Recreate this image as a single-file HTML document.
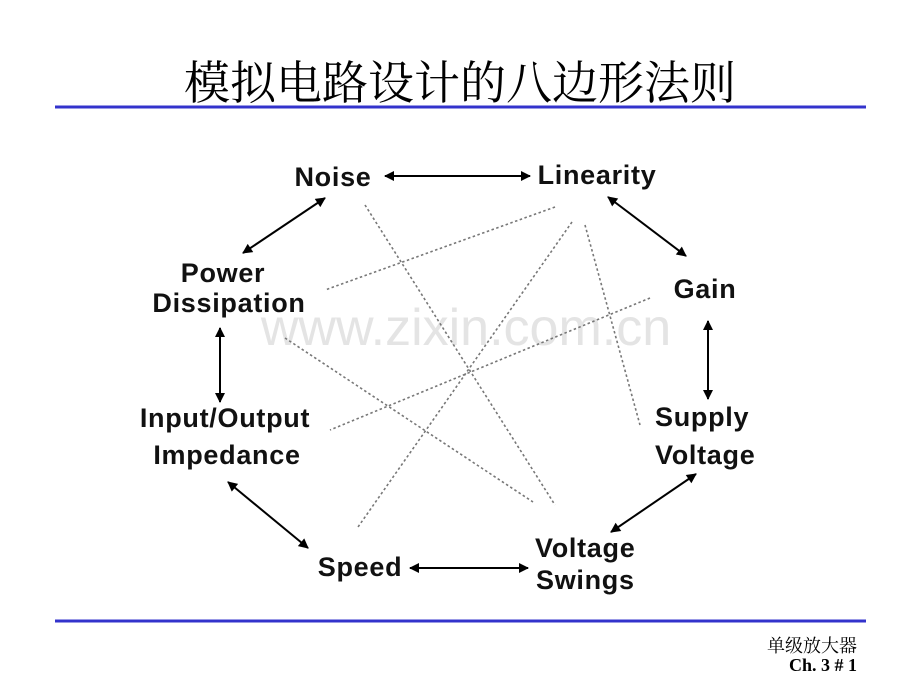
<!DOCTYPE html>
<html><head><meta charset="utf-8"><style>
body{margin:0;width:920px;height:690px;background:#fff;overflow:hidden;position:relative}
.t{position:absolute;left:0;width:920px;top:47px;text-align:center;font:46px "Liberation Serif","Noto Serif CJK SC","Noto Sans CJK SC",serif;color:#000}
.f{position:absolute;right:63px;text-align:right;font:bold 18px "Liberation Serif","Noto Serif CJK SC",serif;color:#000}
</style></head><body>
<div class="t">模拟电路设计的八边形法则</div>
<svg width="920" height="690" style="position:absolute;left:0;top:0">
<defs><marker id="a" viewBox="0 0 10 10" refX="9" refY="5" markerWidth="10" markerHeight="5" orient="auto-start-reverse"><path d="M0,0L10,5L0,10z" fill="#000"/></marker></defs>
<line x1="55" y1="107" x2="866" y2="107" stroke="#3333cc" stroke-width="3"/>
<line x1="55" y1="621" x2="866" y2="621" stroke="#3333cc" stroke-width="3"/>
<text x="466" y="345" font-family="Liberation Sans,sans-serif" font-size="52" fill="#e4e4e4" text-anchor="middle">www.zixin.com.cn</text>
<g stroke="#777" stroke-width="1.6" stroke-dasharray="2.5,2.5" fill="none">
<line x1="365" y1="205" x2="555" y2="505"/>
<line x1="555" y1="207" x2="325" y2="290"/>
<line x1="572" y1="222" x2="358" y2="527"/>
<line x1="585" y1="225" x2="640" y2="425"/>
<line x1="650" y1="298" x2="330" y2="430"/>
<line x1="285" y1="338" x2="533" y2="502"/>
</g>
<g stroke="#000" stroke-width="2" marker-start="url(#a)" marker-end="url(#a)">
<line x1="385" y1="176" x2="530" y2="176"/>
<line x1="325" y1="198" x2="243" y2="253"/>
<line x1="608" y1="197" x2="686" y2="256"/>
<line x1="708" y1="321" x2="708" y2="399"/>
<line x1="696" y1="474" x2="611" y2="532"/>
<line x1="410" y1="568" x2="528" y2="568"/>
<line x1="228" y1="482" x2="308" y2="548"/>
<line x1="220" y1="328" x2="220" y2="402"/>
</g>
<g font-family="Liberation Sans,sans-serif" font-weight="bold" font-size="27" letter-spacing="0.7" fill="#111" text-anchor="middle">
<text x="333" y="186">Noise</text>
<text x="597" y="184">Linearity</text>
<text x="223" y="282">Power</text>
<text x="229" y="312">Dissipation</text>
<text x="705" y="298">Gain</text>
<text x="225" y="427">Input/Output</text>
<text x="227" y="464">Impedance</text>
<text x="655" y="426" text-anchor="start">Supply</text>
<text x="655" y="464" text-anchor="start">Voltage</text>
<text x="360" y="576">Speed</text>
<text x="535" y="557" text-anchor="start">Voltage</text>
<text x="536" y="589" text-anchor="start">Swings</text>
</g>
</svg>
<div class="f" style="top:632px;font-weight:normal;font-family:'Noto Serif CJK SC','Noto Sans CJK SC',serif">单级放大器</div>
<div class="f" style="top:655px">Ch. 3 # 1</div>
</body></html>
